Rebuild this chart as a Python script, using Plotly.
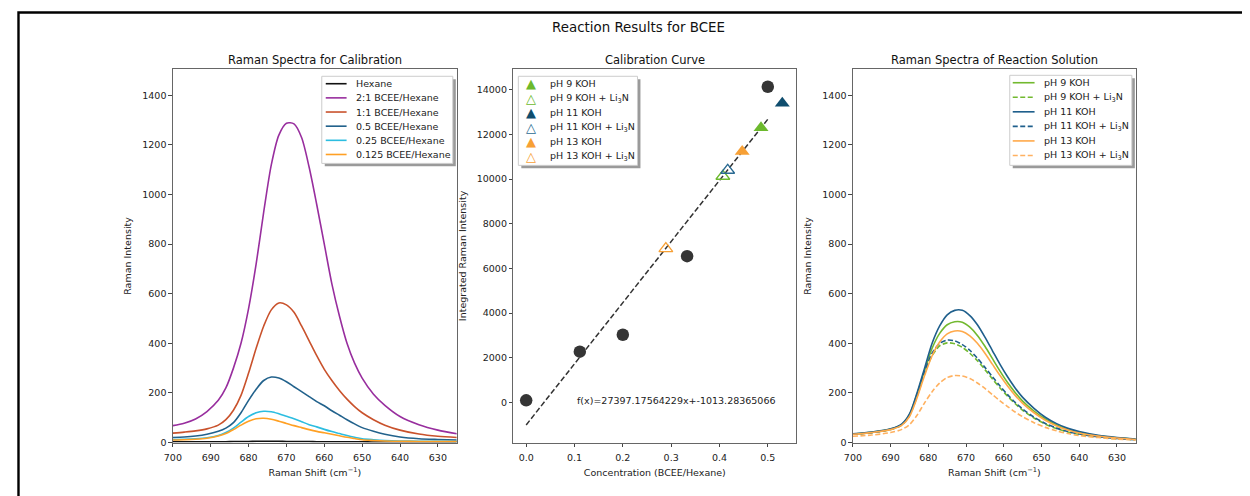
import plotly.graph_objects as go

# page body has an 8px margin: the figure is drawn at (8, 8)
OFF = 8
W, H = 1250 - OFF, 496 - OFF
FONT = "DejaVu Sans"

# ---------------- Panel 1: Raman spectra for calibration ----------------
cal_shift = [700, 697, 694, 691, 688, 686, 684, 682, 680, 678, 676, 674, 672, 670, 668,
             666, 664, 662, 660, 658, 656, 654, 652, 650, 647, 644, 640, 635, 630, 625]
hexane = [3, 3, 3, 3, 3, 3, 4, 4, 4, 5, 5, 5, 5, 4, 4, 4, 4, 3, 3, 3, 3, 3, 3, 3, 2, 2, 2, 2, 2, 2]
bcee_2_1 = [68, 78, 95, 125, 170, 220, 300, 400, 540, 720, 930, 1120, 1240, 1288, 1285,
            1230, 1110, 960, 800, 640, 510, 400, 320, 260, 195, 150, 105, 72, 50, 35]
bcee_1_1 = [38, 42, 47, 55, 70, 92, 130, 190, 280, 380, 470, 535, 563, 555, 525,
            470, 410, 350, 295, 250, 210, 175, 145, 120, 92, 70, 50, 34, 25, 20]
bcee_0_5 = [20, 22, 26, 33, 45, 58, 80, 120, 170, 215, 250, 264, 260, 245, 225,
            205, 185, 165, 148, 128, 110, 92, 75, 60, 45, 33, 22, 15, 12, 10]
bcee_0_25 = [12, 13, 15, 19, 28, 40, 58, 82, 105, 120, 126, 124, 116, 106, 96,
             84, 72, 63, 53, 44, 36, 28, 21, 15, 11, 8, 6, 5, 5, 4]
bcee_0_125 = [10, 11, 13, 17, 26, 36, 52, 70, 86, 96, 98, 94, 86, 77, 68,
              60, 52, 45, 39, 33, 27, 21, 16, 11, 8, 6, 5, 4, 4, 4]
cal_names = ["Hexane", "2:1 BCEE/Hexane", "1:1 BCEE/Hexane", "0.5 BCEE/Hexane",
             "0.25 BCEE/Hexane", "0.125 BCEE/Hexane"]
cal_series = [hexane, bcee_2_1, bcee_1_1, bcee_0_5, bcee_0_25, bcee_0_125]
cal_colors = ["#111111", "#982e9e", "#c9522c", "#22628c", "#2cbde0", "#ffa024"]

# ---------------- Panel 2: calibration curve ----------------
std_conc = [0.0, 0.111, 0.2, 0.333, 0.5]
std_intensity = [90, 2270, 3030, 6550, 14140]
fit_conc = [0.0, 0.5]
fit_intensity = [-1013.28, 12685.31]
fit_label = "f(x)=27397.17564229x+-1013.28365066"
rxn_names = ["pH 9 KOH", "pH 9 KOH + Li<sub>3</sub>N", "pH 11 KOH",
             "pH 11 KOH + Li<sub>3</sub>N", "pH 13 KOH", "pH 13 KOH + Li<sub>3</sub>N"]
rxn_conc = [0.486, 0.407, 0.53, 0.417, 0.447, 0.289]
rxn_intensity = [12300, 10130, 13400, 10400, 11240, 6890]
rxn_marker_colors = ["#6cb92d", "#6cb92d", "#0f4d6e", "#2a6a92", "#f7a035", "#f7a035"]
rxn_filled = [True, False, True, False, True, False]

# ---------------- Panel 3: spectra of reaction solution ----------------
rxn_shift = [700, 695, 690, 687, 685, 683, 681, 679, 677, 675, 673, 671, 669, 667,
             665, 663, 661, 659, 657, 655, 652, 649, 646, 643, 640, 635, 630, 625]
ph9 = [34, 41, 54, 73, 112, 195, 290, 380, 440, 475, 487, 485, 465, 432,
       388, 338, 288, 242, 202, 167, 127, 95, 71, 53, 41, 27, 19, 13]
ph9_li3n = [33, 40, 52, 71, 108, 185, 278, 350, 390, 402, 398, 384, 360, 330,
            294, 256, 220, 187, 157, 130, 99, 74, 56, 42, 33, 22, 15, 11]
ph11 = [35, 42, 55, 75, 115, 200, 300, 400, 470, 515, 533, 533, 512, 475,
        425, 370, 315, 265, 220, 182, 138, 102, 76, 57, 44, 29, 20, 14]
ph11_li3n = [33, 40, 53, 72, 110, 190, 285, 360, 400, 413, 410, 395, 372, 340,
             303, 265, 228, 193, 162, 135, 102, 77, 58, 44, 34, 23, 16, 11]
ph13 = [33, 40, 52, 70, 105, 180, 270, 350, 405, 438, 450, 448, 430, 400,
        360, 315, 270, 228, 190, 158, 120, 90, 67, 50, 38, 26, 18, 12]
ph13_li3n = [25, 30, 40, 53, 72, 110, 160, 205, 240, 262, 270, 268, 258, 240,
             218, 193, 168, 145, 123, 104, 80, 61, 47, 36, 28, 20, 14, 10]
rxn_series = [ph9, ph9_li3n, ph11, ph11_li3n, ph13, ph13_li3n]
rxn_line_colors = ["#72b92f", "#72b92f", "#1f5f8c", "#1f5f8c", "#ffa94a", "#ffb160"]
rxn_dashed = [False, True, False, True, False, True]

shift_ticks = [700, 690, 680, 670, 660, 650, 640, 630]
spec_y_ticks = [0, 200, 400, 600, 800, 1000, 1200, 1400]
conc_ticks = [0.0, 0.1, 0.2, 0.3, 0.4, 0.5]
int_ticks = [0, 2000, 4000, 6000, 8000, 10000, 12000, 14000]


def PX(x):
    return (x - OFF) / W


def PY(y):
    return 1 - (y - OFF) / H


fig = go.Figure()

for name, ys, col in zip(cal_names, cal_series, cal_colors):
    fig.add_trace(go.Scatter(x=cal_shift, y=ys, mode="lines", name=name,
                             line=dict(color=col, width=1.6, shape="spline", smoothing=0.8),
                             xaxis="x", yaxis="y", showlegend=False))

fig.add_trace(go.Scatter(x=fit_conc, y=fit_intensity, mode="lines", name="fit",
                         line=dict(color="#333333", width=1.5, dash="5.5px,2.5px"),
                         xaxis="x2", yaxis="y2", showlegend=False))
fig.add_trace(go.Scatter(x=std_conc, y=std_intensity, mode="markers", name="standards",
                         marker=dict(color="#353535", size=12.5, symbol="circle"),
                         xaxis="x2", yaxis="y2", showlegend=False))
for i in range(len(rxn_names)):
    col = rxn_marker_colors[i]
    if rxn_filled[i]:
        mk = dict(color=col, size=13, symbol="triangle-up", line=dict(width=0))
    else:
        mk = dict(color=col, size=12, symbol="triangle-up-open", line=dict(width=1.3, color=col))
    fig.add_trace(go.Scatter(x=[rxn_conc[i]], y=[rxn_intensity[i]], mode="markers",
                             name=rxn_names[i], marker=mk,
                             xaxis="x2", yaxis="y2", showlegend=False))

for name, ys, col, dsh in zip(rxn_names, rxn_series, rxn_line_colors, rxn_dashed):
    fig.add_trace(go.Scatter(x=rxn_shift, y=ys, mode="lines", name=name,
                             line=dict(color=col, width=1.6, shape="spline", smoothing=0.8,
                                       dash="5px,2.5px" if dsh else "solid"),
                             xaxis="x3", yaxis="y3", showlegend=False))

ydom = [PY(447), PY(70)]
axis_common = dict(showgrid=False, zeroline=False, showline=True, mirror=True,
                   linecolor="#666666", linewidth=1, ticks="outside", ticklen=3.5,
                   tickwidth=1, tickcolor="#444444",
                   tickfont=dict(family=FONT, size=9.5, color="#222222"))
title_font = dict(family=FONT, size=9.5, color="#222222")

fig.update_layout(
    width=W, height=H,
    margin=dict(l=0, r=0, t=0, b=0),
    paper_bgcolor="white", plot_bgcolor="white",
    font=dict(family=FONT, size=9.5, color="#222222"),
    xaxis=dict(domain=[PX(165), PX(451)], range=[700, 625], tickvals=shift_ticks,
               ticklabelstandoff=3,
               title=dict(text="Raman Shift (cm<sup>−1</sup>)", font=title_font, standoff=6),
               anchor="y", **axis_common),
    yaxis=dict(domain=ydom, range=[0, 1505], tickvals=spec_y_ticks,
               title=dict(text="Raman Intensity", font=title_font, standoff=8),
               anchor="x", **axis_common),
    xaxis2=dict(domain=[PX(508), PX(793)], range=[-0.0265, 0.559], tickvals=conc_ticks,
                tickformat=".1f", ticklabelstandoff=3,
                title=dict(text="Concentration (BCEE/Hexane)", font=title_font, standoff=6),
                anchor="y2", **axis_common),
    yaxis2=dict(domain=ydom, range=[-1800, 14920], tickvals=int_ticks, tickformat="d",
                title=dict(text="Integrated Raman Intensity", font=title_font, standoff=8),
                anchor="x2", **axis_common),
    xaxis3=dict(domain=[PX(850), PX(1135)], range=[700, 625], tickvals=shift_ticks,
                ticklabelstandoff=3,
                title=dict(text="Raman Shift (cm<sup>−1</sup>)", font=title_font, standoff=6),
                anchor="y3", **axis_common),
    yaxis3=dict(domain=ydom, range=[0, 1505], tickvals=spec_y_ticks,
                title=dict(text="Raman Intensity", font=title_font, standoff=8),
                anchor="x3", **axis_common),
)

shapes = []
annots = []

# outer frame
shapes.append(dict(type="rect", xref="paper", yref="paper", x0=PX(9.5), x1=PX(1275),
                   y0=PY(520), y1=PY(12.5), line=dict(color="black", width=2.4),
                   fillcolor="rgba(0,0,0,0)", layer="above"))

# titles
annots.append(dict(text="Reaction Results for BCEE", x=PX(634), y=PY(28), xref="paper",
                   yref="paper", showarrow=False, xanchor="center", yanchor="middle",
                   font=dict(family=FONT, size=13.4, color="#111111")))
for txt, cx in [("Raman Spectra for Calibration", 308), ("Calibration Curve", 650.5),
                ("Raman Spectra of Reaction Solution", 992.5)]:
    annots.append(dict(text=txt, x=PX(cx), y=PY(61), xref="paper", yref="paper",
                       showarrow=False, xanchor="center", yanchor="middle",
                       font=dict(family=FONT, size=11.5, color="#111111")))

# fit equation
annots.append(dict(text=fit_label, x=0.1, y=80, xref="x2", yref="y2", showarrow=False,
                   xanchor="left", yanchor="middle",
                   font=dict(family=FONT, size=9.5, color="#222222")))


def legend_box(x0, y0, x1, y1):
    shapes.append(dict(type="rect", xref="paper", yref="paper", x0=PX(x0 + 3), x1=PX(x1 + 3),
                       y0=PY(y1 + 3), y1=PY(y0 + 3), line=dict(width=0),
                       fillcolor="#9a9a9a", layer="above"))
    shapes.append(dict(type="rect", xref="paper", yref="paper", x0=PX(x0), x1=PX(x1),
                       y0=PY(y1), y1=PY(y0), line=dict(color="#cccccc", width=1),
                       fillcolor="white", layer="above"))


# legend 1
legend_box(315, 77, 447, 165)
for i, (name, col) in enumerate(zip(cal_names, cal_colors)):
    yy = 84.5 + i * 14.3
    shapes.append(dict(type="line", xref="paper", yref="paper", x0=PX(319), x1=PX(340),
                       y0=PY(yy), y1=PY(yy), line=dict(color=col, width=1.6), layer="above"))
    annots.append(dict(text=name, x=PX(347), y=PY(yy), xref="paper", yref="paper",
                       showarrow=False, xanchor="left", yanchor="middle",
                       font=dict(family=FONT, size=9.5, color="#222222")))

# legend 2
legend_box(513, 77, 633, 167)
for i in range(len(rxn_names)):
    yy = 84.5 + i * 14.7
    glyph = "▲" if rxn_filled[i] else "△"
    annots.append(dict(text=glyph, x=PX(526), y=PY(yy), xref="paper", yref="paper",
                       showarrow=False, xanchor="center", yanchor="middle",
                       font=dict(family=FONT, size=13, color=rxn_marker_colors[i])))
    annots.append(dict(text=rxn_names[i], x=PX(543), y=PY(yy), xref="paper", yref="paper",
                       showarrow=False, xanchor="left", yanchor="middle",
                       font=dict(family=FONT, size=9.5, color="#222222")))

# legend 3
legend_box(1008, 76, 1131, 167)
for i in range(len(rxn_names)):
    yy = 83.5 + i * 14.7
    shapes.append(dict(type="line", xref="paper", yref="paper", x0=PX(1011), x1=PX(1033),
                       y0=PY(yy), y1=PY(yy),
                       line=dict(color=rxn_line_colors[i], width=1.6,
                                 dash="5px,2.5px" if rxn_dashed[i] else "solid"),
                       layer="above"))
    annots.append(dict(text=rxn_names[i], x=PX(1040), y=PY(yy), xref="paper", yref="paper",
                       showarrow=False, xanchor="left", yanchor="middle",
                       font=dict(family=FONT, size=9.5, color="#222222")))

fig.update_layout(shapes=shapes, annotations=annots)
fig.write_html("out.html")
